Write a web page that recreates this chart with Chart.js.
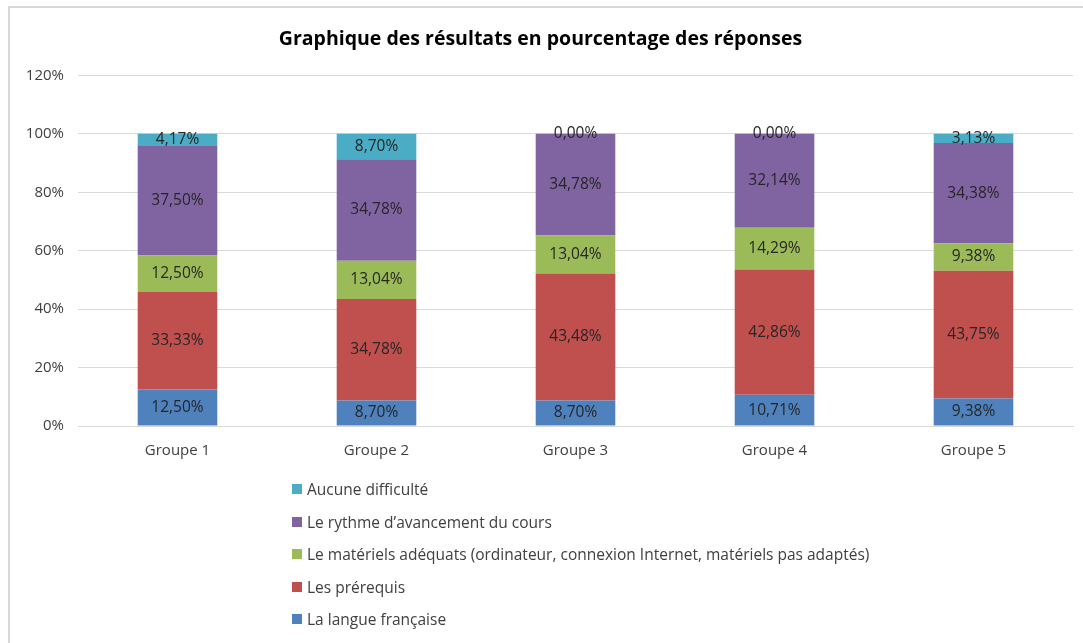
<!DOCTYPE html>
<html lang="fr">
<head>
<meta charset="utf-8">
<title>Graphique des résultats en pourcentage des réponses</title>
<script src="https://cdn.jsdelivr.net/npm/chart.js@4.4.1/dist/chart.umd.min.js"></script>
<style>
  html, body { margin: 0; padding: 0; background: #fff; }
  #wrap { position: relative; width: 1083px; height: 643px; overflow: hidden; }
  #frame {
    position: absolute; left: 8px; top: 6px; right: -4px; bottom: -4px;
    border: 2px solid #d9d9d9;
  }
  #chart { position: absolute; left: 0; top: 0; }
  #legend {
    position: absolute; left: 292px; top: 479px;
    list-style: none; margin: 0; padding: 0;
    font-family: 'Open Sans', sans-serif; font-size: 15.5px; color: #404040;
  }
  #legend li { display: flex; align-items: center; height: 20px; margin-bottom: 12.5px; }
  #legend .box { width: 10px; height: 10px; margin-right: 5px; display: inline-block; }
</style>
</head>
<body>
<div id="wrap">
  <div id="frame"></div>
  <canvas id="chart" width="1083" height="643"></canvas>
  <ul id="legend"></ul>
</div>
<script>
// ===== Data =====
const groups = ['Groupe 1', 'Groupe 2', 'Groupe 3', 'Groupe 4', 'Groupe 5'];

const langueFrancaise = [12.50, 8.70, 8.70, 10.71, 9.38];
const prerequis       = [33.33, 34.78, 43.48, 42.86, 43.75];
const materiels       = [12.50, 13.04, 13.04, 14.29, 9.38];
const rythme          = [37.50, 34.78, 34.78, 32.14, 34.38];
const aucune          = [4.17, 8.70, 0.00, 0.00, 3.13];

const yTicks = [0, 20, 40, 60, 80, 100, 120];

const fontFamily = "'Open Sans', sans-serif";

function fmt(v) {
  return v.toFixed(2).replace('.', ',') + '%';
}

// draws the value in the middle of every segment
const valueLabels = {
  id: 'valueLabels',
  afterDatasetsDraw(chart) {
    const ctx = chart.ctx;
    ctx.save();
    ctx.font = '15.5px ' + fontFamily;
    ctx.fillStyle = '#262626';
    ctx.textAlign = 'center';
    ctx.textBaseline = 'middle';
    chart.data.datasets.forEach((ds, i) => {
      const meta = chart.getDatasetMeta(i);
      meta.data.forEach((bar, j) => {
        const p = bar.getCenterPoint();
        ctx.fillText(fmt(ds.data[j]), p.x, p.y);
      });
    });
    ctx.restore();
  }
};

const ctx = document.getElementById('chart').getContext('2d');

const chart = new Chart(ctx, {
  type: 'bar',
  data: {
    labels: groups,
    datasets: [
      { label: 'La langue française', data: langueFrancaise, backgroundColor: '#4f81bd' },
      { label: 'Les prérequis', data: prerequis, backgroundColor: '#c0504d' },
      { label: 'Le matériels adéquats (ordinateur, connexion Internet, matériels pas adaptés)', data: materiels, backgroundColor: '#9bbb59' },
      { label: 'Le rythme d\u2019avancement du cours', data: rythme, backgroundColor: '#8064a2' },
      { label: 'Aucune difficulté', data: aucune, backgroundColor: '#4bacc6' }
    ]
  },
  options: {
    responsive: false,
    animation: false,
    layout: { padding: { left: 8, right: 10, top: 0, bottom: 175 } },
    datasets: {
      bar: { barPercentage: 0.4, categoryPercentage: 1.0, borderWidth: 0 }
    },
    scales: {
      x: {
        stacked: true,
        grid: { display: false },
        border: { color: '#d9d9d9' },
        ticks: { color: '#404040', font: { family: fontFamily, size: 15 }, padding: 8 }
      },
      y: {
        stacked: true,
        min: 0,
        max: 120,
        afterBuildTicks(scale) {
          scale.ticks = yTicks.map(v => ({ value: v }));
        },
        afterFit(scale) { scale.width = 70; },
        grid: { color: '#d9d9d9', drawTicks: false },
        border: { display: false },
        ticks: {
          color: '#404040',
          padding: 14,
          font: { family: fontFamily, size: 15 },
          callback: v => v + '%'
        }
      }
    },
    plugins: {
      legend: { display: false },
      tooltip: { enabled: false },
      title: {
        display: true,
        text: 'Graphique des résultats en pourcentage des réponses',
        color: '#000',
        font: { family: fontFamily, size: 19.5, weight: 'bold' },
        padding: { top: 28, bottom: 24 }
      }
    }
  },
  plugins: [valueLabels]
});

// ===== HTML legend (vertical, reversed like the original) =====
const legendEl = document.getElementById('legend');
chart.data.datasets.slice().reverse().forEach(ds => {
  const li = document.createElement('li');
  const box = document.createElement('span');
  box.className = 'box';
  box.style.background = ds.backgroundColor;
  li.appendChild(box);
  li.appendChild(document.createTextNode(ds.label));
  legendEl.appendChild(li);
});
</script>
</body>
</html>
